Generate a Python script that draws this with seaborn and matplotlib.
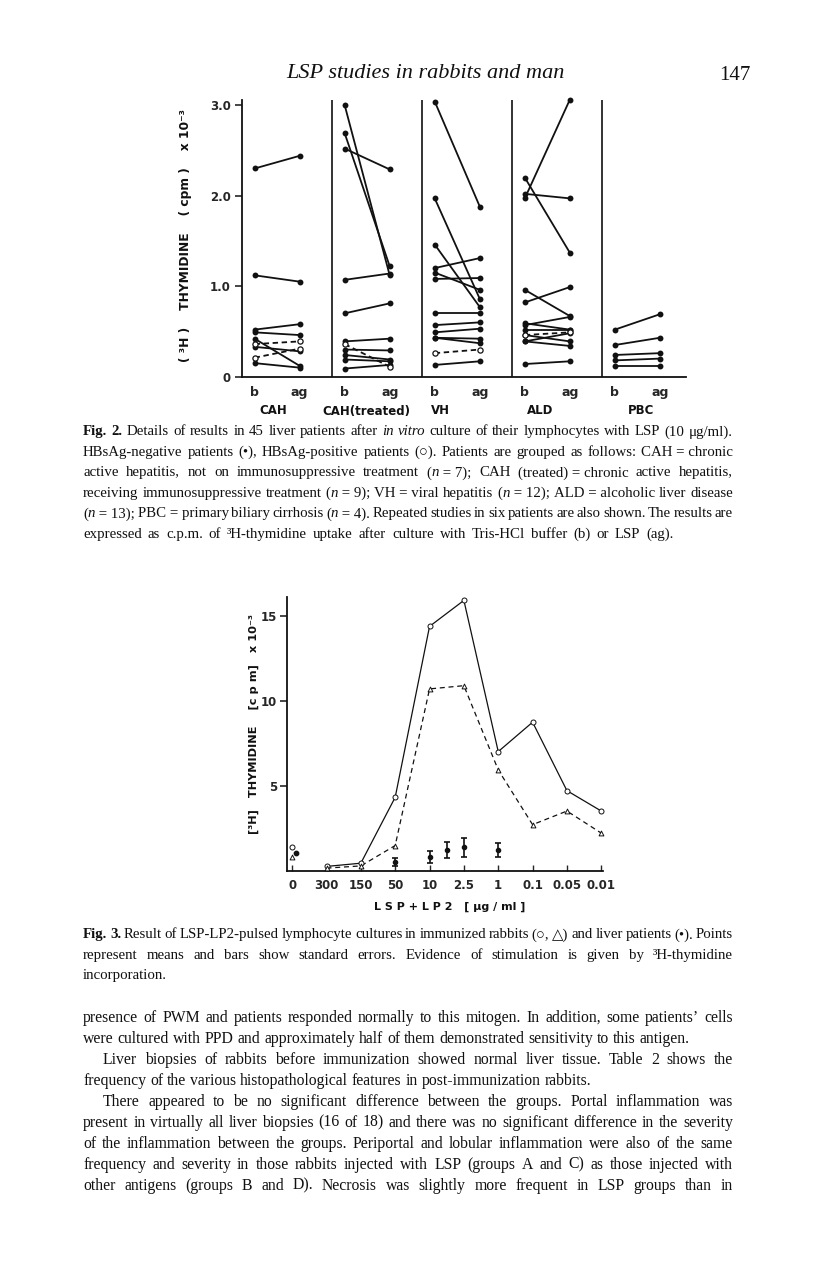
import re
import numpy as np
import pandas as pd
import matplotlib
matplotlib.use('Agg')
import matplotlib.pyplot as plt
import seaborn as sns

# ---------------- Fig. 2 data (b = buffer, ag = LSP), open = HBsAg-positive
groups = ['CAH', 'CAH(treated)', 'VH', 'ALD', 'PBC']

cah_b = [2.30, 1.12, 0.52, 0.49, 0.42, 0.33, 0.15, 0.36, 0.21]
cah_ag = [2.44, 1.05, 0.58, 0.46, 0.12, 0.28, 0.10, 0.39, 0.31]
cah_open = [0, 0, 0, 0, 0, 0, 0, 1, 1]

caht_b = [3.00, 2.69, 2.52, 1.07, 0.70, 0.39, 0.30, 0.24, 0.19, 0.09, 0.36]
caht_ag = [1.12, 1.22, 2.29, 1.14, 0.81, 0.42, 0.29, 0.19, 0.17, 0.13, 0.11]
caht_open = [0, 0, 0, 0, 0, 0, 0, 0, 0, 0, 1]

vh_b = [3.04, 1.97, 1.46, 1.20, 1.15, 1.08, 0.70, 0.57, 0.49, 0.43, 0.43, 0.13, 0.26]
vh_ag = [1.88, 0.86, 0.77, 1.31, 0.96, 1.09, 0.70, 0.60, 0.53, 0.42, 0.37, 0.17, 0.30]
vh_open = [0, 0, 0, 0, 0, 0, 0, 0, 0, 0, 0, 0, 1]

ald_b = [2.20, 2.02, 1.97, 0.96, 0.82, 0.57, 0.59, 0.52, 0.46, 0.39, 0.39, 0.14, 0.46]
ald_ag = [1.37, 1.97, 3.06, 0.67, 0.99, 0.66, 0.52, 0.52, 0.39, 0.48, 0.34, 0.17, 0.49]
ald_open = [0, 0, 0, 0, 0, 0, 0, 0, 0, 0, 0, 0, 1]

pbc_b = [0.52, 0.35, 0.24, 0.18, 0.12]
pbc_ag = [0.69, 0.43, 0.26, 0.20, 0.12]
pbc_open = [0, 0, 0, 0, 0]

# ---------------- Fig. 3 data
conc_labels = ['0', '300', '150', '50', '10', '2.5', '1', '0.1', '0.05', '0.01']
rabbit_circle = [1.41, 0.24, 0.43, 4.31, 14.37, 15.9, 7.0, 8.73, 4.7, 3.5]
rabbit_triangle = [0.78, 0.14, 0.27, 1.47, 10.69, 10.88, 5.92, 2.7, 3.5, 2.2]
patient_pos = [0, 3, 4, 4.5, 5, 6]
patient_mean = [1.02, 0.49, 0.78, 1.21, 1.36, 1.21]
patient_se = [0.0, 0.25, 0.36, 0.45, 0.54, 0.43]

W, H = 816, 1288
SERIF = ['Liberation Serif', 'DejaVu Serif']
SANS = ['DejaVu Sans']
INK = '#111111'

sns.set_style('ticks')
plt.rcParams['font.family'] = SERIF

fig = plt.figure(figsize=(W / 100, H / 100), dpi=100)
renderer = fig.canvas.get_renderer()


def fx(x):
    return x / W


def fy(y):
    return 1 - y / H


# ================= Fig. 2 =================
ax1 = fig.add_axes([fx(242), fy(376.7), fx(444), 277 / H])
rows = []
for gi, (bs, ags, ops) in enumerate([(cah_b, cah_ag, cah_open), (caht_b, caht_ag, caht_open),
                                     (vh_b, vh_ag, vh_open), (ald_b, ald_ag, ald_open),
                                     (pbc_b, pbc_ag, pbc_open)]):
    for k in range(len(bs)):
        kind = 'pos' if ops[k] else 'neg'
        rows.append(dict(pid=f'{gi}-{k}', x=gi + 0.14, val=bs[k], hbs=kind))
        rows.append(dict(pid=f'{gi}-{k}', x=gi + 0.64, val=ags[k], hbs=kind))
df2 = pd.DataFrame(rows)

sns.lineplot(data=df2, x='x', y='val', units='pid', estimator=None, style='hbs',
             dashes={'neg': '', 'pos': (3, 2)}, color=INK, lw=1.3, sort=False,
             legend=False, ax=ax1)
sns.scatterplot(data=df2[df2.hbs == 'neg'], x='x', y='val', color=INK, s=18,
                linewidth=0, legend=False, ax=ax1, zorder=3, clip_on=False)
sns.scatterplot(data=df2[df2.hbs == 'pos'], x='x', y='val', color='white', edgecolor=INK,
                s=14, linewidth=0.9, legend=False, ax=ax1, zorder=3, clip_on=False)
for i in range(1, 5):
    ax1.axvline(i, color=INK, lw=1.2)

ax1.set_xlim(0, 4.93)
ax1.set_ylim(0, 3.06)
ax1.spines['top'].set_visible(False)
ax1.spines['right'].set_visible(False)
for s in ['left', 'bottom']:
    ax1.spines[s].set_linewidth(1.3)
    ax1.spines[s].set_color(INK)
xt = [gi + off for gi in range(5) for off in (0.14, 0.64)]
ax1.set_xticks(xt)
ax1.set_xticklabels(['b', 'ag'] * 5, family=SANS, weight='bold', fontsize=9)
ax1.set_yticks([0, 1, 2, 3])
ax1.set_yticklabels(['0', '1.0', '2.0', '3.0'], family=SANS, weight='bold', fontsize=8.5)
ax1.tick_params(axis='x', length=0, pad=7)
ax1.tick_params(axis='y', length=5, width=1.2, pad=3)
ax1.set_xlabel('')
ax1.set_ylabel('')

fig.text(fx(185), fy(236), '( ³H )    THYMIDINE    ( cpm )    x 10⁻³', rotation=90,
         ha='center', va='center', family=SANS, weight='bold', fontsize=8.8, color=INK)
for lab, xc in zip(groups, [273, 366, 440, 540, 641]):
    fig.text(fx(xc), fy(411), lab, ha='center', va='center', family=SANS,
             weight='bold', fontsize=8.5, color=INK)

# ================= Fig. 3 =================
ax2 = fig.add_axes([fx(287), fy(870.5), fx(316), 273.5 / H])
pos = np.arange(len(conc_labels))
df3 = pd.DataFrame({
    'pos': np.concatenate([pos, pos]),
    'val': rabbit_circle + rabbit_triangle,
    'series': ['circle'] * len(pos) + ['triangle'] * len(pos),
})
sns.lineplot(data=df3[df3.pos > 0], x='pos', y='val', style='series',
             dashes={'circle': '', 'triangle': (4, 3)}, color=INK, lw=0.9,
             estimator=None, legend=False, ax=ax2)
sns.scatterplot(data=df3[df3.series == 'circle'], x='pos', y='val', marker='o', s=13,
                color='white', edgecolor=INK, linewidth=0.7, legend=False, ax=ax2,
                zorder=3, clip_on=False)
sns.scatterplot(data=df3[df3.series == 'triangle'], x='pos', y='val', marker='^', s=12,
                color='white', edgecolor=INK, linewidth=0.7, legend=False, ax=ax2,
                zorder=3, clip_on=False)
pm = np.array(patient_mean)
pse = np.array(patient_se)
ppos = np.array(patient_pos, dtype=float)
has_err = pse > 0
ax2.errorbar(ppos[has_err], pm[has_err], yerr=pse[has_err], fmt='o', ms=3,
             color=INK, capsize=2, elinewidth=1.2, capthick=1.2, zorder=3)
ax2.scatter(ppos[~has_err] + 0.12, pm[~has_err], s=10, color=INK, zorder=3)

ax2.set_xlim(-0.15, 9.05)
ax2.set_ylim(0, 16.1)
ax2.spines['top'].set_visible(False)
ax2.spines['right'].set_visible(False)
for s in ['left', 'bottom']:
    ax2.spines[s].set_linewidth(1.3)
    ax2.spines[s].set_color(INK)
ax2.set_xticks(pos)
ax2.set_xticklabels(conc_labels, family=SANS, weight='bold', fontsize=8.5)
ax2.set_yticks([5, 10, 15])
ax2.set_yticklabels(['5', '10', '15'], family=SANS, weight='bold', fontsize=8.5)
ax2.tick_params(axis='x', direction='in', length=4, width=1, pad=6)
ax2.tick_params(axis='y', length=5, width=1.2, pad=2)
ax2.set_xlabel('')
ax2.set_ylabel('')

fig.text(fx(254), fy(724), '[³H]   THYMIDINE    [c p m]   x 10⁻³', rotation=90,
         ha='center', va='center', family=SANS, weight='bold', fontsize=8.2, color=INK)
fig.text(fx(450), fy(907), 'L S P + L P 2   [ μg / ml ]', ha='center', va='center',
         family=SANS, weight='bold', fontsize=8, color=INK)


# ================= page text =================
def word_pieces(word):
    out = []
    for part in re.split(r'(\*[^*]+\*|#[^#]+#)', word):
        if not part:
            continue
        if part.startswith('*'):
            out.append((part[1:-1], 'italic', 'normal'))
        elif part.startswith('#'):
            out.append((part[1:-1], 'normal', 'bold'))
        else:
            out.append((part, 'normal', 'normal'))
    return [(s.replace('~', ' '), st, wt) for s, st, wt in out]


def text_line(line, y, size, justify=True, indent=0, x0=83, x1=733, word_gap=1.0):
    words = [word_pieces(w) for w in line.split(' ')]
    objs, widths = [], []
    for w in words:
        wobjs, ww = [], 0
        for s, st, wt in w:
            t = fig.text(0, 0, s, fontsize=size, family=SERIF, style=st, weight=wt,
                         va='baseline', color=INK)
            pw = t.get_window_extent(renderer).width
            wobjs.append((t, pw))
            ww += pw
        objs.append(wobjs)
        widths.append(ww)
    space = 0.25 * size * 100 / 72
    left = x0 + indent
    gap = space * word_gap
    if justify and len(words) > 1:
        gap = (x1 - left - sum(widths)) / (len(words) - 1)
        if gap < 0.25 * space:
            for wobjs in objs:
                for t, _ in wobjs:
                    t.remove()
            text_line(line, y, size * 0.98, justify, indent, x0, x1, word_gap)
            return
    x = left
    base = fy(y + 0.3 * size * 100 / 72)
    for wobjs, ww in zip(objs, widths):
        for t, pw in wobjs:
            t.set_position((fx(x), base))
            x += pw
        x += gap


fig.text(fx(425), fy(73), 'LSP studies in rabbits and man', ha='center', va='center',
         family=SERIF, style='italic', fontsize=16, color=INK)
fig.text(fx(735), fy(75), '147', ha='center', va='center', family=SERIF,
         fontsize=15, color=INK)

cap2 = [
    '#Fig.# #2.# Details of results in 45 liver patients after *in* *vitro* culture of their lymphocytes with LSP (10 μg/ml).',
    'HBsAg-negative patients (•), HBsAg-positive patients (○). Patients are grouped as follows: CAH~=~chronic',
    'active hepatitis, not on immunosuppressive treatment (*n*~=~7); CAH (treated)~=~chronic active hepatitis,',
    'receiving immunosuppressive treatment (*n*~=~9); VH~=~viral hepatitis (*n*~=~12); ALD~=~alcoholic liver disease',
    '(*n*~=~13); PBC~=~primary biliary cirrhosis (*n*~=~4). Repeated studies in six patients are also shown. The results are',
    'expressed as c.p.m. of ³H-thymidine uptake after culture with Tris-HCl buffer (b) or LSP (ag).',
]
for i, line in enumerate(cap2):
    text_line(line, 431 + 20.5 * i, 10.7, justify=(i < len(cap2) - 1), word_gap=1.6)

cap3 = [
    '#Fig.# #3.# Result of LSP-LP2-pulsed lymphocyte cultures in immunized rabbits (○, △) and liver patients (•). Points',
    'represent means and bars show standard errors. Evidence of stimulation is given by ³H-thymidine',
    'incorporation.',
]
for i, line in enumerate(cap3):
    text_line(line, 934 + 20.5 * i, 10.7, justify=(i < len(cap3) - 1))

body = [
    ('presence of PWM and patients responded normally to this mitogen. In addition, some patients’ cells', 0, True),
    ('were cultured with PPD and approximately half of them demonstrated sensitivity to this antigen.', 0, False),
    ('Liver biopsies of rabbits before immunization showed normal liver tissue. Table 2 shows the', 20, True),
    ('frequency of the various histopathological features in post-immunization rabbits.', 0, False),
    ('There appeared to be no significant difference between the groups. Portal inflammation was', 20, True),
    ('present in virtually all liver biopsies (16 of 18) and there was no significant difference in the severity', 0, True),
    ('of the inflammation between the groups. Periportal and lobular inflammation were also of the same', 0, True),
    ('frequency and severity in those rabbits injected with LSP (groups A and C) as those injected with', 0, True),
    ('other antigens (groups B and D). Necrosis was slightly more frequent in LSP groups than in', 0, True),
]
for i, (line, ind, just) in enumerate(body):
    text_line(line, 1017 + 21 * i, 11.3, justify=just, indent=ind)

fig.savefig('out.png', dpi=100, facecolor='white')
